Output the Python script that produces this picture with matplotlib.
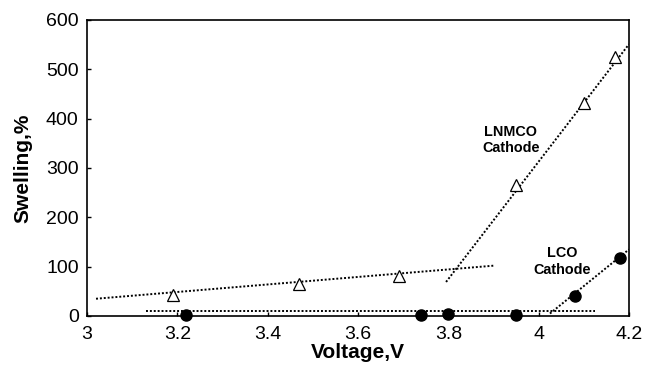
import matplotlib.pyplot as plt

plt.rcParams['font.family'] = ['Liberation Sans', 'DejaVu Sans']

# LNMCO cathode (open triangles)
lnmco_v = [3.19, 3.47, 3.69, 3.95, 4.10, 4.17]
lnmco_sw = [42, 65, 82, 265, 432, 524]
# LCO cathode (filled circles)
lco_v = [3.22, 3.74, 3.80, 3.95, 4.08, 4.18]
lco_sw = [2, 3, 4, 3, 40, 117]

# dotted trend lines, end points
trend_lnmco_low = ([3.02, 3.90], [35, 102])
trend_lnmco_high = ([3.795, 4.20], [69, 551])
trend_lco_flat = ([3.13, 4.125], [11, 11])
trend_lco_rise = ([4.025, 4.20], [5, 135])

xticks = [3, 3.2, 3.4, 3.6, 3.8, 4, 4.2]
xlabels = ['3', '3.2', '3.4', '3.6', '3.8', '4', '4.2']
yticks = [0, 100, 200, 300, 400, 500, 600]

fig = plt.figure(figsize=(6.6, 3.67), dpi=100)
ax = fig.add_axes([87 / 660, 1 - 316 / 367, 542 / 660, 296 / 367])

for xs, ys in [trend_lnmco_low, trend_lnmco_high, trend_lco_flat, trend_lco_rise]:
    ax.plot(xs, ys, color='black', linestyle=(0, (1, 1)), linewidth=1.4)

ax.plot(lnmco_v, lnmco_sw, linestyle='none', marker='^', markersize=9,
        markerfacecolor='white', markeredgecolor='black', markeredgewidth=0.9,
        clip_on=False, zorder=3)
ax.plot(lco_v, lco_sw, linestyle='none', marker='o', markersize=8,
        color='black', clip_on=False, zorder=3)

ax.text(3.938, 357, 'LNMCO\nCathode', ha='center', va='center',
        fontsize=10.4, fontweight='bold', linespacing=1.25)
ax.text(4.053, 111, 'LCO\nCathode', ha='center', va='center',
        fontsize=10.4, fontweight='bold', linespacing=1.25)

ax.set_xlim(3, 4.2)
ax.set_ylim(0, 600)
ax.set_xticks(xticks)
ax.set_xticklabels(xlabels)
ax.set_yticks(yticks)
ax.tick_params(direction='in', length=3, labelsize=14, width=1, pad=6)
ax.tick_params(axis='x', pad=7)
ax.set_xlabel('Voltage,V', fontsize=15, fontweight='bold', labelpad=0)
ax.set_ylabel('Swelling,%', fontsize=15, fontweight='bold', labelpad=10)
for s in ax.spines.values():
    s.set_linewidth(1.2)

fig.savefig('out.png', dpi=100)
